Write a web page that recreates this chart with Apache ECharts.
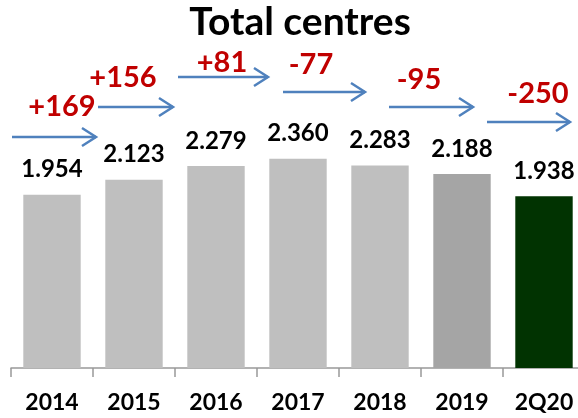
<!DOCTYPE html>
<html><head><meta charset="utf-8">
<script src="https://cdn.jsdelivr.net/npm/echarts@6/dist/echarts.min.js"></script>
<style>html,body{margin:0;padding:0;background:#fff}#c{width:578px;height:418px}</style>
</head><body><div id="c"></div>
<script>
var categories = ['2014','2015','2016','2017','2018','2019','2Q20'];
var totals = [1954, 2123, 2279, 2360, 2283, 2188, 1938];
var changes = ['+169','+156','+81','-77','-95','-250'];
var titleText = 'Total centres';
var barColors = ['#BFBFBF','#BFBFBF','#BFBFBF','#BFBFBF','#BFBFBF','#A5A5A5','#013301'];

// annotation layout (pixels)
var arrowPos = [[12,96,137],[98,173,107],[178,268,77],[283,365,92],[389,473,107],[487,570,122]];
var labelPos = [[62,107],[123,78],[222,63],[311,65],[419,80],[538,94]];

var FONT = 'Lato, "Liberation Sans", sans-serif';
var chart = echarts.init(document.getElementById('c'), null, {renderer:'canvas'});

var graphics = [];
graphics.push({type:'text', x:300, y:22, style:{text:titleText, fill:'#000', font:'bold 39px '+FONT, align:'center', verticalAlign:'middle'}});
arrowPos.forEach(function(a){
  graphics.push({type:'line', shape:{x1:a[0],y1:a[2],x2:a[1],y2:a[2]}, style:{stroke:'#4F81BD',lineWidth:2.5}});
  graphics.push({type:'polyline', shape:{points:[[a[1]-14,a[2]-9],[a[1],a[2]],[a[1]-14,a[2]+9]]}, style:{stroke:'#4F81BD',lineWidth:2.5,fill:null}});
});
changes.forEach(function(t,i){
  graphics.push({type:'text', x:labelPos[i][0], y:labelPos[i][1], style:{text:t, fill:'#C00000', font:'bold 29px '+FONT, align:'center', verticalAlign:'middle'}});
});

chart.setOption({
  animation:false,
  grid:{left:11, width:574, top:102, bottom:50, containLabel:false, outerBoundsMode:'none'},
  xAxis:{type:'category', data:categories, boundaryGap:true,
    axisLine:{lineStyle:{color:'#999',width:1.5}},
    axisTick:{show:true, length:9, lineStyle:{color:'#999',width:1.5}},
    axisLabel:{color:'#000', fontFamily:FONT, fontWeight:'bold', fontSize:23, margin:23}},
  yAxis:{type:'value', min:0, max:3000, show:false, splitLine:{show:false}},
  series:[{type:'bar', barWidth:'70%',
    data: totals.map(function(v,i){return {value:v, itemStyle:{color:barColors[i]}};}),
    label:{show:true, position:'top', distance:13, color:'#000', fontFamily:FONT, fontWeight:'bold', fontSize:24,
      formatter:function(p){return String(p.value).replace(/\B(?=(\d{3})+(?!\d))/g,'.');}}
  }],
  graphic: graphics
});
</script></body></html>
